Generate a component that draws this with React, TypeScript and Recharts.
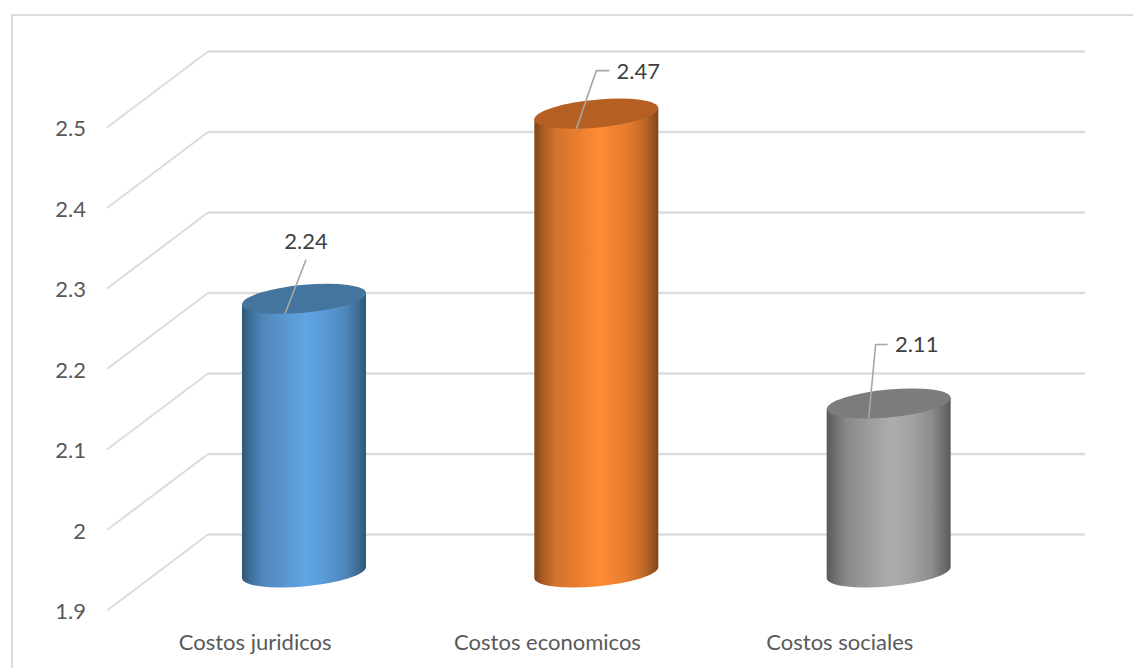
import { Bar, BarChart, CartesianGrid, LabelList, XAxis, YAxis } from 'recharts';

const CATEGORIES = ['Costos juridicos', 'Costos economicos', 'Costos sociales'];
const VALUES = [2.24, 2.47, 2.11];
const Y_TICKS = [1.9, 2, 2.1, 2.2, 2.3, 2.4, 2.5];

const rows = CATEGORIES.map((name, i) => ({ name, value: VALUES[i] }));

const FONT = 'Lato, sans-serif';
const FONT_SIZE = 22;
const GRID = '#dcdcdc';

// Floor depth of the fake 3D box: the back wall sits up and to the right of the front edge.
const WALL_X = 208;
const WALL_DX = 101;
const WALL_DY = 76;
// Columns stand halfway along that depth.
const COL_DX = 50;
const COL_DY = 38;

const RY = 14;
const SKEW = -0.09;

const CYLINDERS = [
  { id: 'blue', top: '#44759f', stops: ['#2f5674', '#3f6f9c', '#4f87bb', '#5a97d0', '#5fa5e4', '#5896d2', '#4f86b9', '#3c6a94', '#2f5674'] },
  { id: 'orange', top: '#b65f23', stops: ['#7f4519', '#a85c22', '#d2722b', '#ea7e2f', '#ff8a35', '#ec802f', '#d0712a', '#a25a22', '#7f4519'] },
  { id: 'gray', top: '#7c7c7c', stops: ['#5a5a5a', '#6f6f6f', '#8b8b8b', '#9d9d9d', '#adadad', '#a0a0a0', '#8e8e8e', '#6e6e6e', '#5a5a5a'] },
];
const STOP_OFFSETS = ['0%', '7%', '17%', '35%', '52%', '70%', '84%', '94%', '100%'];

// Leader lines, relative to the centre of each column's top ellipse
const LEADERS = [
  { points: [[-19, 15], [2, -39]], text: [2, -58] },
  { points: [[-20, 15], [0, -43], [13, -43]], text: [42, -43] },
  { points: [[-20, 15], [-13, -59], [-1, -59]], text: [28, -60] },
];

function YTick({ y, payload }: any) {
  return (
    <g>
      <line x1={WALL_X} y1={y} x2={WALL_X - WALL_DX} y2={y + WALL_DY} stroke={GRID} strokeWidth={2} />
      <text
        x={86}
        y={y + WALL_DY}
        textAnchor="end"
        dominantBaseline="central"
        fontFamily={FONT}
        fontSize={FONT_SIZE}
        fill="#595959"
      >
        {String(payload.value)}
      </text>
    </g>
  );
}

function XTick({ x, y, payload }: any) {
  return (
    <text
      x={x - 99}
      y={y + 99}
      textAnchor="middle"
      dominantBaseline="central"
      fontFamily={FONT}
      fontSize={FONT_SIZE}
      fill="#595959"
    >
      {payload.value}
    </text>
  );
}

function Cylinder({ x, y, width, height, index }: any) {
  const style = CYLINDERS[index];
  const a = width / 2;
  const cx = x + a - COL_DX;
  const top = y + COL_DY;
  return (
    <g transform={`matrix(1,${SKEW},0,1,${cx},${top})`}>
      <path
        d={`M${-a},0 L${-a},${height} A${a},${RY} 0 0 0 ${a},${height} L${a},0 Z`}
        fill={`url(#cyl-${style.id})`}
      />
      <ellipse rx={a} ry={RY} fill={style.top} />
    </g>
  );
}

function Leader({ x, y, width, index, value }: any) {
  const cx = x + width / 2 - COL_DX;
  const cy = y + COL_DY;
  const leader = LEADERS[index];
  const pts = leader.points.map(([dx, dy]) => `${cx + dx},${cy + dy}`).join(' ');
  return (
    <g>
      <polyline points={pts} fill="none" stroke="#a6a6a6" strokeWidth={1.6} />
      <text
        x={cx + leader.text[0]}
        y={cy + leader.text[1]}
        textAnchor="middle"
        dominantBaseline="central"
        fontFamily={FONT}
        fontSize={FONT_SIZE}
        fill="#404040"
      >
        {value}
      </text>
    </g>
  );
}

export default function App() {
  return (
    <div style={{ position: 'absolute', left: 0, top: 0, width: 1133, height: 668, background: '#fff', overflow: 'hidden' }}>
      {/* only the top and left edges of the chart frame fall inside the page */}
      <div
        style={{
          position: 'absolute',
          left: 11,
          top: 14,
          width: 1140,
          height: 680,
          border: `2px solid ${GRID}`,
        }}
      />
      <div style={{ position: 'absolute', left: 0, top: 0 }}>
        <BarChart
          width={1133}
          height={668}
          data={rows}
          margin={{ top: 51.5, right: 48, bottom: 0, left: 0 }}
        >
          <defs>
            {CYLINDERS.map((c) => (
              <linearGradient key={c.id} id={`cyl-${c.id}`} x1="0" y1="0" x2="1" y2="0">
                {c.stops.map((color, i) => (
                  <stop key={i} offset={STOP_OFFSETS[i]} stopColor={color} />
                ))}
              </linearGradient>
            ))}
          </defs>
          <CartesianGrid horizontal vertical={false} stroke={GRID} strokeWidth={2.5} />
          <XAxis dataKey="name" height={133.5} axisLine={false} tickLine={false} interval={0} tick={<XTick />} />
          <YAxis
            width={208}
            domain={[1.9, 2.5]}
            ticks={Y_TICKS}
            axisLine={false}
            tickLine={false}
            tick={<YTick />}
          />
          <Bar dataKey="value" barSize={124} isAnimationActive={false} shape={<Cylinder />}>
            <LabelList dataKey="value" content={<Leader />} />
          </Bar>
        </BarChart>
      </div>
    </div>
  );
}
